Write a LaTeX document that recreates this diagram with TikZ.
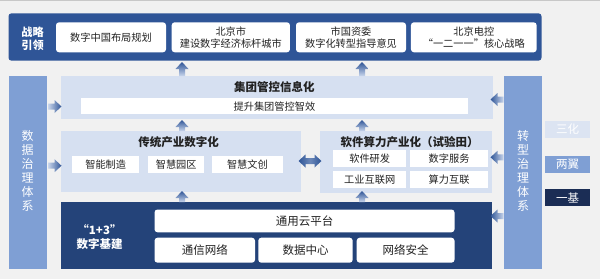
\documentclass[tikz,border=0pt]{standalone}
\usepackage{fontspec}
\setmainfont{Noto Sans CJK SC}
\definecolor{bgray}{HTML}{F1F1F1}
\definecolor{edgegray}{HTML}{C8C8C8}
\definecolor{leadblue}{HTML}{2F5597}
\definecolor{basenavy}{HTML}{244379}
\definecolor{sideblue}{HTML}{7F9FD4}
\definecolor{paleblue}{HTML}{D6E0F1}
\definecolor{tagpale}{HTML}{DCE4F2}
\definecolor{tagnavy}{HTML}{1B2D55}
\definecolor{arrowdark}{HTML}{2F5597}
\definecolor{arrowpale}{HTML}{C9D6EC}
\definecolor{inkgray}{HTML}{222222}

\begin{document}
\begin{tikzpicture}[
    x=1pt, y=-1pt,
    font=\fontsize{10.2}{11.7}\selectfont,
    every node/.style={inner sep=0pt, outer sep=0pt, text=inkgray},
    panel/.style={draw=none, minimum height=#1},
    card/.style={fill=white, rounded corners=3pt, align=center},
    cell/.style={fill=white, align=center},
    title/.style={font=\bfseries\fontsize{11.5}{13}\selectfont},
    whitetxt/.style={text=white, font=\bfseries\fontsize{11.5}{14}\selectfont, align=center},
    pillar/.style={fill=sideblue, minimum width=38pt, minimum height=193.3pt},
    tag/.style={minimum width=44.8pt, minimum height=17pt, text=white, font=\fontsize{11.5}{13}\selectfont},
]
\useasboundingbox (0,0) rectangle (600,279);
\fill[bgray] (0,0) rectangle (600,279);
\fill[edgegray] (0,0) rectangle (600,1.2);

% ============ top band: strategy ============
\node[panel=47.4pt, fill=leadblue, rounded corners=3pt, minimum width=533pt] (lead) at (275,37) {};
\node[whitetxt, font=\bfseries\fontsize{11.2}{13.4}\selectfont] (leadlab) at (32.5,39) {战略\\引领};
\node[card, minimum width=110pt, minimum height=30pt] (plan)   at (111,37.3) {数字中国布局规划};
\node[card, minimum width=118.3pt, minimum height=30pt] (city) at (230.8,37.3) {北京市\\建设数字经济标杆城市};
\node[card, minimum width=110pt, minimum height=30pt] (sasac)  at (351,37.3) {市国资委\\数字化转型指导意见};
\node[card, minimum width=125.7pt, minimum height=30pt] (bjec) at (473.8,37.3) {北京电控\\“一二一一”核心战略};

% ============ side pillars ============
\node[pillar] (datagov) at (27.5,172.7) {};
\node[whitetxt, font=\fontsize{12}{14}\selectfont] at (27.5,171) {数\\据\\治\\理\\体\\系};
\node[pillar, minimum width=37.1pt] (transgov) at (523,172.7) {};
\node[whitetxt, font=\fontsize{12}{14}\selectfont] at (523,171) {转\\型\\治\\理\\体\\系};

% ============ group management ============
\node[panel=43.3pt, fill=paleblue, minimum width=431.3pt] (group) at (276.9,97.7) {};
\node[title] (grouptitle) at (274.4,87.3) {集团管控信息化};
\node[cell, minimum width=386.7pt, minimum height=16pt] (groupbar) at (274.4,106.3) {提升集团管控智效};

% ============ two wings ============
\node[panel=61.3pt, fill=paleblue, minimum width=240pt] (trad) at (181.2,161.3) {};
\node[title] (tradtitle) at (178.7,141.7) {传统产业数字化};
\foreach \n/\x/\w/\t in {mfg/105.7/67.3/智能制造, park/176.2/56.5/智慧园区, culture/247.4/70.2/智慧文创}
  \node[cell, minimum width=\w pt, minimum height=16.7pt] (\n) at (\x,164.3) {\t};

\node[panel=62pt, fill=paleblue, minimum width=172.2pt] (soft) at (405.7,161.7) {};
\node[title] (softtitle) at (409.5,141.7) {软件算力产业化（试验田）};
\foreach \n/\x/\y/\w/\t in {dev/369.7/158.8/72.5/软件研发, svc/449.1/158.8/78.2/数字服务,
                            iiot/369.7/179.4/72.5/工业互联网, compute/449.1/179.4/78.2/算力互联}
  \node[cell, minimum width=\w pt, minimum height=17pt] (\n) at (\x,\y) {\t};

% ============ "1+3" digital base ============
\node[panel=67.3pt, fill=basenavy, minimum width=430.6pt] (base) at (276.5,235.7) {};
\node[whitetxt] (baselab) at (99.5,237) {“1+3”\\数字基建};
\node[card, minimum width=300pt, minimum height=22.8pt, font=\fontsize{11.5}{13}\selectfont] (cloud) at (304.5,220.9) {通用云平台};
\foreach \n/\x/\w/\t in {net/204.75/100.5/通信网络, dc/305.5/94.4/数据中心, sec/405.6/97.8/网络安全}
  \node[card, minimum width=\w pt, minimum height=25pt, font=\fontsize{11.5}{13}\selectfont] (\n) at (\x,250.2) {\t};

% ============ legend ============
\node[tag, fill=tagpale] (sanhua)    at (567.6,129)   {三化};
\node[tag, fill=sideblue] (liangyi)  at (567.6,164.1) {两翼};
\node[tag, fill=tagnavy, minimum height=17.6pt] (yiji) at (567.6,197.5) {一基};

% ============ block arrows ============
\foreach \x/\ya/\yb in {182/62/76, 362/62/76, 182/120/131, 362/120/131, 182/191/202, 362/191/202}
  \shade[top color=arrowdark, bottom color=arrowpale]
    (\x,\ya) -- (\x+6.5,\ya+7) -- (\x+3,\ya+7) -- (\x+3,\yb) -- (\x-3,\yb) -- (\x-3,\ya+7) -- (\x-6.5,\ya+7) -- cycle;
\foreach \y in {106.5, 165.7}
  \shade[left color=arrowpale, right color=arrowdark]
    (61.5,\y) -- (54.5,\y-6.5) -- (54.5,\y-3) -- (48,\y-3) -- (48,\y+3) -- (54.5,\y+3) -- (54.5,\y+6.5) -- cycle;
\foreach \y in {99.5, 157.3, 216}
  \shade[left color=arrowdark, right color=arrowpale]
    (490.5,\y) -- (497.5,\y-6.5) -- (497.5,\y-3) -- (503.5,\y-3) -- (503.5,\y+3) -- (497.5,\y+3) -- (497.5,\y+6.5) -- cycle;
\shade[left color=arrowdark, right color=arrowdark, middle color=arrowpale!40!arrowdark]
  (298.5,161) -- (305.5,154.5) -- (305.5,158) -- (314.5,158) -- (314.5,154.5) -- (321.5,161)
  -- (314.5,167.5) -- (314.5,164) -- (305.5,164) -- (305.5,167.5) -- cycle;

\end{tikzpicture}
\end{document}
